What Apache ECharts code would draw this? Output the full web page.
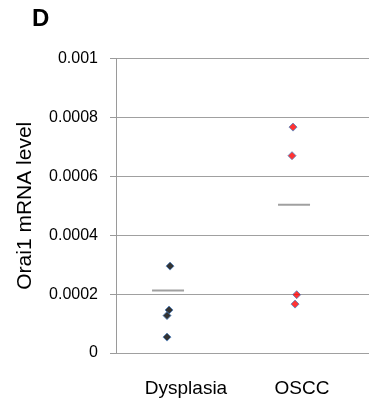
<!DOCTYPE html>
<html>
<head>
<meta charset="utf-8">
<script src="https://cdn.jsdelivr.net/npm/echarts@6/dist/echarts.min.js"></script>
<style>
  html, body { margin: 0; padding: 0; background: #fff; }
  #chart { width: 369px; height: 406px; }
</style>
</head>
<body>
<div id="chart"></div>
<script>
// groups on the x axis
var categories = ['Dysplasia', 'OSCC']
// each point: [x position (group index, slightly jittered), mRNA level]
var dysplasiaPoints = [[1.016, 0.000295], [1.008, 0.000146], [0.992, 0.000127], [0.992, 0.000054]]
var osccPoints = [[1.992, 0.000767], [1.984, 0.00067], [2.021, 0.000198], [2.008, 0.000166]]
// horizontal bar drawn for each group
var groupLines = [0.000212, 0.000503]
var yTicks = [0, 0.0002, 0.0004, 0.0006, 0.0008, 0.001]

var font = '"Liberation Sans", Arial, sans-serif'
var lineHalf = 0.127

var chart = echarts.init(document.getElementById('chart'))

var lineSeries = groupLines.map(function(v, i) {
  return {
    type: 'line',
    xAxisIndex: 0,
    yAxisIndex: 0,
    symbol: 'none',
    silent: true,
    animation: false,
    lineStyle: { color: '#a0a0a0', width: 2 },
    data: [[i + 1 - lineHalf, v], [i + 1 + lineHalf, v]]
  }
})

chart.setOption({
  animation: false,
  graphic: [{
    type: 'text',
    left: 32,
    top: 7,
    style: { text: 'D', font: 'bold 24px ' + font, fill: '#000' }
  }],
  grid: [
    { left: 116, top: 58.5, right: 0, bottom: 53 },
    { left: 128, width: 232, top: 58.5, bottom: 53 }
  ],
  xAxis: [
    {
      type: 'value',
      gridIndex: 0,
      min: 0.587,
      max: 2.595,
      axisLine: { show: false },
      axisTick: { show: false },
      axisLabel: { show: false },
      splitLine: { show: false }
    },
    {
      type: 'category',
      gridIndex: 1,
      data: categories,
      axisLine: { show: false },
      axisTick: { show: false },
      axisLabel: { margin: 26, fontFamily: font, fontSize: 19, color: '#000' }
    }
  ],
  yAxis: [
    {
      type: 'value',
      gridIndex: 0,
      min: 0,
      max: 0.001,
      interval: 0.0002,
      name: 'Orai1 mRNA level',
      nameLocation: 'middle',
      nameGap: 80,
      nameTextStyle: { fontFamily: font, fontSize: 21, color: '#000' },
      axisLine: { show: true, lineStyle: { color: '#9a9a9a', width: 1 } },
      axisTick: { show: true, length: 6, lineStyle: { color: '#9a9a9a' } },
      axisLabel: {
        margin: 18,
        fontFamily: font,
        fontSize: 16,
        color: '#000',
        formatter: function(v) {
          var t = yTicks.find(function(x) { return Math.abs(x - v) < 1e-9 })
          return String(t)
        }
      },
      splitLine: { show: true, lineStyle: { color: '#a0a0a0', width: 1 } }
    },
    {
      type: 'value',
      gridIndex: 1,
      show: false
    }
  ],
  series: [
    {
      name: categories[0],
      type: 'scatter',
      symbol: 'diamond',
      symbolSize: 8,
      itemStyle: { color: '#000', borderColor: '#4f81bd', borderWidth: 1 },
      data: dysplasiaPoints
    },
    {
      name: categories[1],
      type: 'scatter',
      symbol: 'diamond',
      symbolSize: 8,
      itemStyle: { color: '#ff0000', borderColor: '#4f81bd', borderWidth: 1 },
      data: osccPoints
    }
  ].concat(lineSeries)
})
</script>
</body>
</html>
